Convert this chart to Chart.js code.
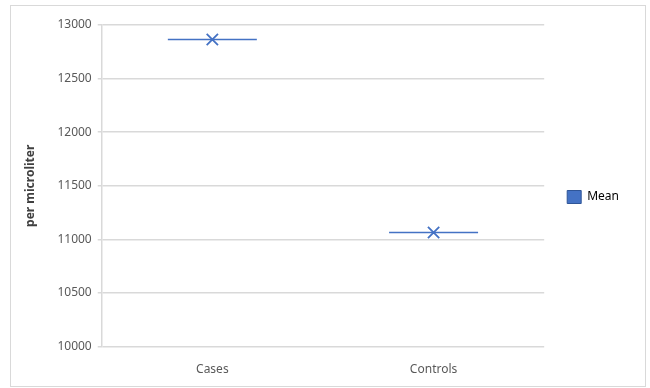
<!DOCTYPE html>
<html lang="en">
<head>
  <meta charset="UTF-8">
  <title>Mean per microliter</title>
  <style>
    body { margin: 0; background: #fff; }
    #frame { position: absolute; left: 10px; top: 5px; width: 634px; height: 380px; border: 1px solid #d9d9d9; }
    #frame canvas { position: absolute; left: 0; top: 0; }
  </style>
  <script src="https://cdn.jsdelivr.net/npm/chart.js"></script>
</head>
<body>
<div id="frame"><canvas id="meanChart" width="634" height="380"></canvas></div>
<script>
const groups = ['Cases', 'Controls'];
const means = [12865, 11065];
const yTicks = [10000, 10500, 11000, 11500, 12000, 12500, 13000];

const blue = '#4472c4';
const tickFont = { family: 'Noto Sans', size: 12 };

// nudge legend up a bit (the big label padding pushes it down)
const legendNudge = {
  id: 'legendNudge',
  afterLayout(chart) {
    if (chart.legend) { chart.legend.top -= 8; chart.legend.bottom -= 8; }
  }
};

const ctx = document.getElementById('meanChart').getContext('2d');
new Chart(ctx, {
  type: 'line',
  data: {
    labels: groups,
    datasets: [
      // mean bar (horizontal dash)
      { label: 'Mean', data: means, showLine: false, pointStyle: 'line', pointRadius: 44.5,
        pointHoverRadius: 44.5, borderColor: blue, borderWidth: 1.5, pointBorderWidth: 1.5 },
      // cross marker
      { label: 'marker', data: means, showLine: false, pointStyle: 'crossRot', pointRadius: 8,
        pointHoverRadius: 8, borderColor: blue, pointBorderWidth: 1.8 }
    ]
  },
  options: {
    responsive: false,
    animation: false,
    layout: { autoPadding: false, padding: { left: 12, top: 19, right: 16, bottom: 1 } },
    plugins: {
      tooltip: { enabled: false },
      legend: {
        position: 'right',
        labels: {
          font: tickFont,
          color: '#595959',
          boxWidth: 14,
          boxHeight: 13,
          padding: 23,
          generateLabels: () => [{
            text: 'Mean', fillStyle: blue, strokeStyle: '#2f5597', lineWidth: 1, hidden: false, datasetIndex: 0
          }]
        }
      }
    },
    scales: {
      x: {
        offset: true,
        grid: { display: false },
        border: { display: false },
        ticks: { font: tickFont, color: '#595959', padding: 8 }
      },
      y: {
        min: 10000,
        max: 13000,
        afterBuildTicks: axis => { axis.ticks = yTicks.map(v => ({ value: v })); },
        grid: { color: '#d9d9d9', lineWidth: 1.5, tickLength: 4 },
        border: { color: '#d9d9d9', width: 1.5 },
        ticks: { font: tickFont, color: '#595959', padding: 6, callback: v => String(v) },
        title: { display: true, text: 'per microliter', color: '#404040',
                 font: { family: 'Noto Sans', size: 12, weight: 'bold' }, padding: { top: 0, bottom: 14 } }
      }
    }
  },
  plugins: [legendNudge]
});
</script>
</body>
</html>
